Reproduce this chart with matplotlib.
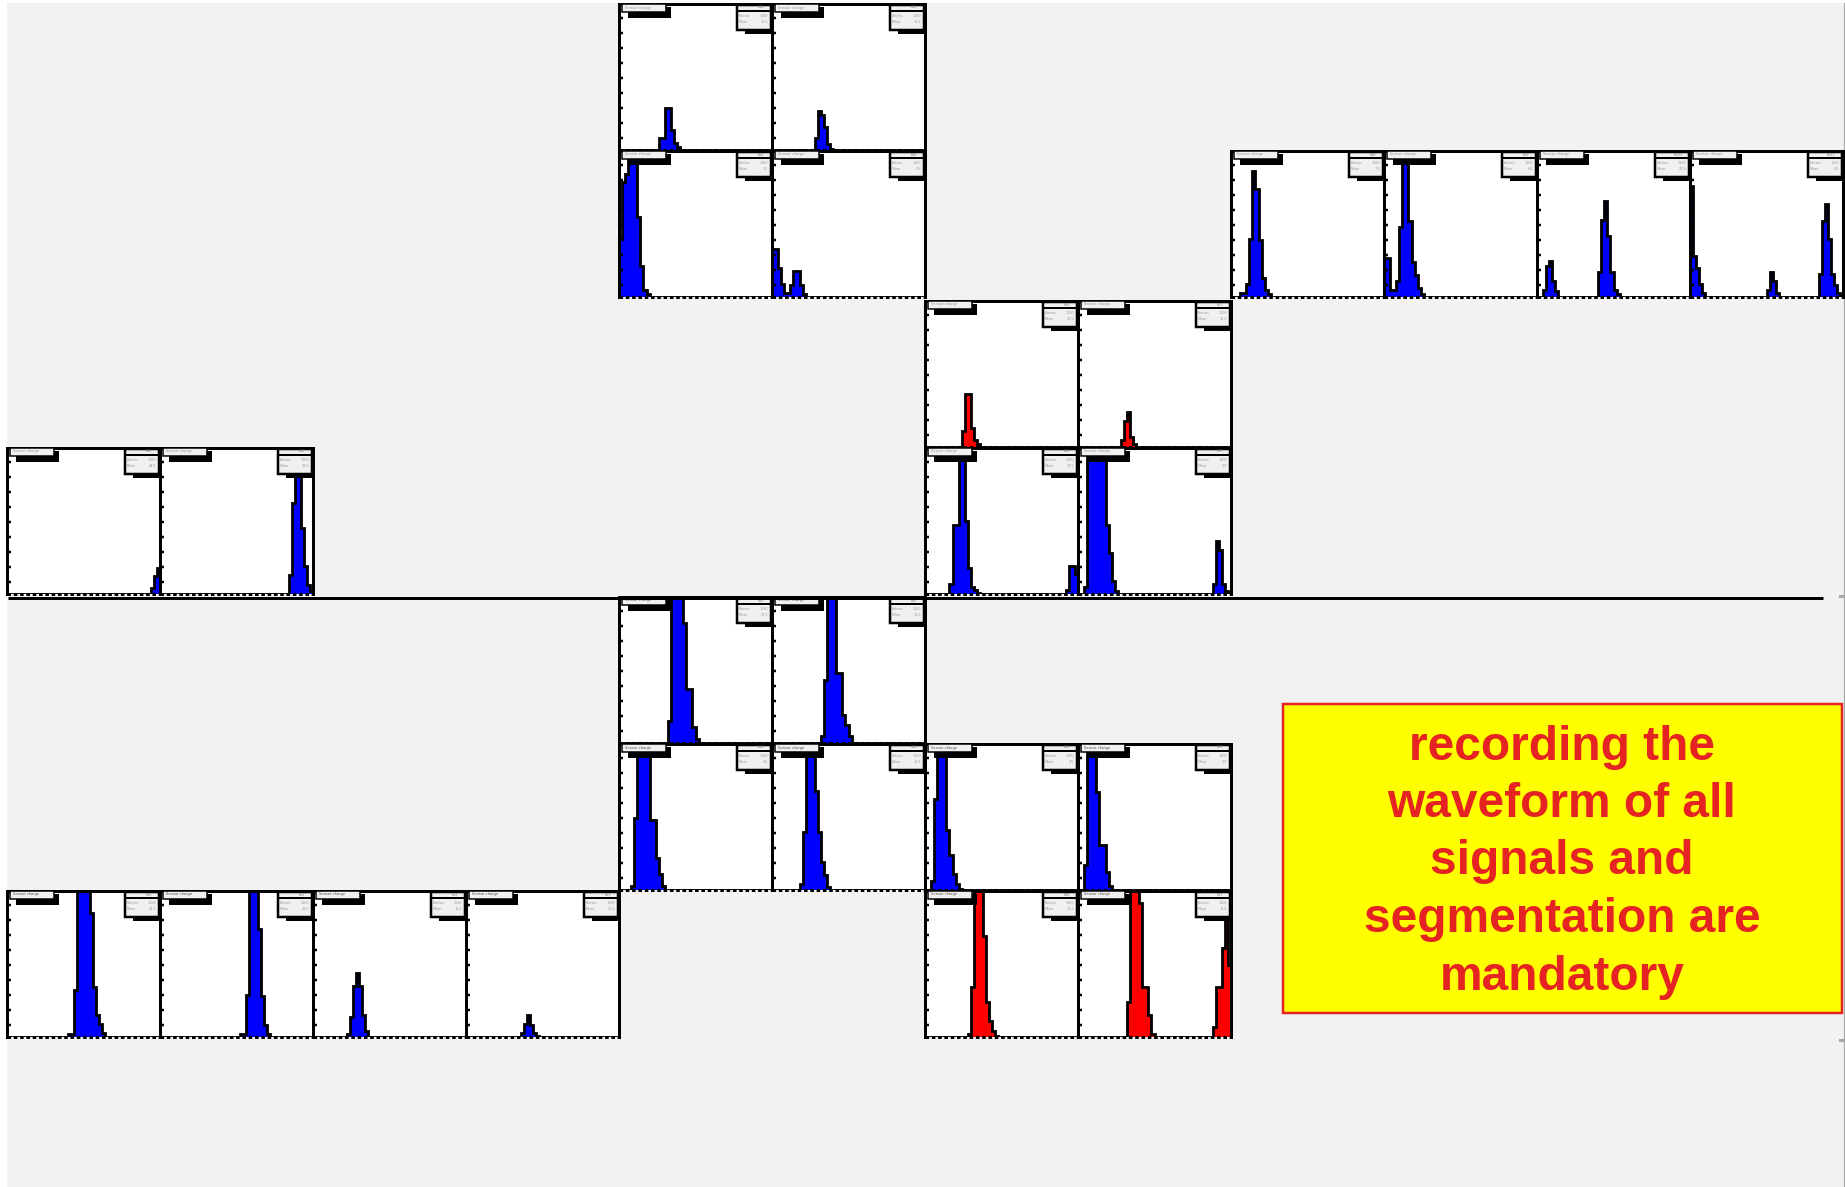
import numpy as np
import matplotlib
matplotlib.use("Agg")
import matplotlib.pyplot as plt
from matplotlib.patches import Rectangle

# %%
# histogram contents, 50 bins per pad, height in % of the pad
# each pad = list of (first bin, counts); values > 100 are clipped by the frame
NBINS = 50

r0c4 = [(13, [8, 8, 29, 29, 14, 5, 2])]
r0c5 = [(14, [8, 27, 24, 16, 4, 1])]
r1c4 = [(0, [40, 79, 84, 130, 130, 130, 55, 21, 5, 2])]
r1c5 = [(0, [33, 33, 20, 9, 3, 3, 8, 18, 18, 8, 2])]
r1c8 = [(3, [3, 3, 9, 40, 86, 74, 39, 13, 5, 2])]
r1c9 = [(0, [27, 27, 5, 5, 11, 48, 130, 130, 52, 24, 15, 6, 2])]
r1c10 = [(2, [5, 21, 25, 11, 4]), (20, [17, 53, 66, 42, 17, 5, 2])]
r1c11 = [(0, [76, 28, 20, 9, 3]), (25, [5, 17, 11, 3]), (42, [16, 52, 64, 40, 16, 8, 3, 1])]
r2c6 = [(12, [11, 36, 36, 13, 5, 2])]
r2c7 = [(14, [5, 18, 24, 7, 2])]
r3c0 = [(47, [4, 12, 18])]
r3c1 = [(42, [13, 62, 88, 88, 45, 19, 6, 2])]
r3c6 = [(8, [7, 47, 47, 130, 130, 50, 18, 5, 3, 1]), (46, [3, 19, 19, 14])]
r3c7 = [(2, [5, 130, 130, 130, 130, 130, 130, 47, 28, 9, 2]), (44, [7, 36, 30, 7, 2])]
r4c4 = [(16, [15, 130, 130, 130, 130, 82, 37, 37, 11, 3])]
r4c5 = [(16, [5, 43, 130, 130, 130, 48, 48, 19, 12, 5])]
r5c4 = [(4, [3, 49, 130, 130, 130, 130, 48, 48, 22, 11, 3])]
r5c5 = [(9, [4, 40, 130, 130, 130, 68, 40, 19, 10, 2])]
r5c6 = [(2, [6, 62, 130, 130, 130, 41, 24, 11, 4, 1])]
r5c7 = [(2, [17, 130, 130, 130, 67, 31, 31, 12, 3])]
r6c0 = [(20, [2, 2, 32, 130, 130, 130, 130, 85, 34, 15, 9, 3])]
r6c1 = [(26, [2, 2, 29, 130, 130, 130, 74, 28, 8, 2])]
r6c2 = [(11, [2, 14, 35, 44, 35, 15, 4])]
r6c3 = [(18, [3, 9, 15, 8, 3, 1])]
r6c6 = [(14, [2, 34, 130, 130, 130, 69, 24, 11, 4, 1])]
r6c7 = [(16, [24, 130, 130, 130, 92, 34, 34, 15, 2]), (44, [7, 34, 34, 61, 81, 49])]

# (row, col, fill colour, contents)
pads = [
    (0, 4, "blue", r0c4), (0, 5, "blue", r0c5),
    (1, 4, "blue", r1c4), (1, 5, "blue", r1c5),
    (1, 8, "blue", r1c8), (1, 9, "blue", r1c9), (1, 10, "blue", r1c10), (1, 11, "blue", r1c11),
    (2, 6, "red", r2c6), (2, 7, "red", r2c7),
    (3, 0, "blue", r3c0), (3, 1, "blue", r3c1), (3, 6, "blue", r3c6), (3, 7, "blue", r3c7),
    (4, 4, "blue", r4c4), (4, 5, "blue", r4c5),
    (5, 4, "blue", r5c4), (5, 5, "blue", r5c5), (5, 6, "blue", r5c6), (5, 7, "blue", r5c7),
    (6, 0, "blue", r6c0), (6, 1, "blue", r6c1), (6, 2, "blue", r6c2), (6, 3, "blue", r6c3),
    (6, 6, "red", r6c6), (6, 7, "red", r6c7),
]

box_lines = ["recording the", "waveform of all", "signals and",
             "segmentation are", "mandatory"]

# %%
W, H = 1845, 1187
PX = 72 / 100  # px -> pt
PAD_W, PAD_H = 153, 146
row_top = [4, 151, 301, 448, 597, 744, 891]
fill_col = {"blue": "#0000ff", "red": "#ff0000"}

fig = plt.figure(figsize=(W / 100, H / 100), dpi=100)
fig.patch.set_facecolor("white")

bg = fig.add_axes([0, 0, 1, 1])
bg.set_xlim(0, W)
bg.set_ylim(H, 0)
bg.axis("off")
bg.add_patch(Rectangle((7, 3), 1837, H - 3, fc="#f2f2f2", ec="none"))
bg.plot([1844, 1844], [3, H], color="#a8a8a8", lw=1.2 * PX)
for yy in [596, 1040]:
    bg.plot([1840, 1844], [yy, yy], color="#a8a8a8", lw=3 * PX)

# yellow box
bg.add_patch(Rectangle((1283, 704), 559, 309, fc="#ffff00", ec="#e42322", lw=2.5 * PX))
for i, line in enumerate(box_lines):
    bg.text(1562, 747 + 57.5 * i, line, ha="center", va="center",
            fontsize=34.5, fontweight="bold", family="Liberation Sans", color="#e42322")

# %%
yticks = [(12.3 + 15 * k) / PAD_H * 100 for k in range(9)]
edges = np.arange(NBINS + 1)


def tax(px_x, px_y):
    # pad pixel offsets (from top-left) -> axes fraction
    return px_x / PAD_W, 1 - px_y / PAD_H


for row, col, colour, segs in pads:
    x0 = 7 + PAD_W * col
    y0 = row_top[row]
    ax = fig.add_axes([x0 / W, 1 - (y0 + PAD_H) / H, PAD_W / W, PAD_H / H])
    ax.set_facecolor("white")
    ax.set_xlim(0, NBINS)
    ax.set_ylim(0, 100)

    counts = np.zeros(NBINS)
    for start, vals in segs:
        counts[start:start + len(vals)] = vals
    ax.stairs(counts, edges, fill=True, facecolor=fill_col[colour],
              edgecolor="black", linewidth=2.8 * PX)

    for s in ["left", "top", "right"]:
        ax.spines[s].set_linewidth(3 * PX)
    ax.spines["bottom"].set_visible(False)
    ax.plot([0, NBINS], [0, 0], color="black", lw=3 * PX,
            ls=(0, (1.2, 0.9)), clip_on=False, zorder=5)
    ax.set_xticks([])
    ax.set_yticks(yticks)
    ax.tick_params(axis="y", direction="in", length=4 * PX, width=2.5 * PX,
                   labelleft=False)

    # title pave with shadow
    sx, sy = tax(9, 14)
    ax.add_patch(Rectangle((sx, sy), 43 / PAD_W, 11 / PAD_H, transform=ax.transAxes,
                           fc="black", ec="none", zorder=6))
    bx, by = tax(3, 8)
    ax.add_patch(Rectangle((bx, by), 44 / PAD_W, 8 / PAD_H, transform=ax.transAxes,
                           fc="#f0f0f0", ec="black", lw=1.5 * PX, zorder=7))
    tcol = "#555555" if row >= 4 else "#9a9a9a"
    ax.text(*tax(6, 1.5), "Sensor charge", transform=ax.transAxes, fontsize=2.6,
            color=tcol, va="top", ha="left", zorder=8)

    # stats pave with shadow
    sx, sy = tax(PAD_W - 27, 30)
    ax.add_patch(Rectangle((sx, sy), 27 / PAD_W, 26 / PAD_H, transform=ax.transAxes,
                           fc="black", ec="none", zorder=6))
    bx, by = tax(PAD_W - 35, 26)
    ax.add_patch(Rectangle((bx, by), 34 / PAD_W, 25 / PAD_H, transform=ax.transAxes,
                           fc="#f0f0f0", ec="black", lw=2.5 * PX, zorder=7))
    ax.plot([bx, bx + 34 / PAD_W], [1 - 7 / PAD_H] * 2, transform=ax.transAxes,
            color="black", lw=2 * PX, zorder=8)
    ax.text(*tax(PAD_W - 8, 1.5), "h%d%d" % (row, col), transform=ax.transAxes,
            fontsize=2.4, color="#777777", va="top", ha="right", zorder=8)
    ax.text(*tax(PAD_W - 33, 12), "Entries", transform=ax.transAxes, fontsize=2.4,
            color="#9a9a9a", va="center", ha="left", zorder=8)
    ax.text(*tax(PAD_W - 4, 12), "1000", transform=ax.transAxes, fontsize=2.4,
            color="#9a9a9a", va="center", ha="right", zorder=8)
    ax.text(*tax(PAD_W - 33, 18), "Mean", transform=ax.transAxes, fontsize=2.4,
            color="#9a9a9a", va="center", ha="left", zorder=8)
    ax.text(*tax(PAD_W - 4, 18), "%.1f" % (np.argmax(counts) + 0.5), transform=ax.transAxes,
            fontsize=2.4, color="#9a9a9a", va="center", ha="right", zorder=8)

# separator line drawn on top of the pads
top = fig.add_axes([0, 0, 1, 1], facecolor="none")
top.set_xlim(0, W)
top.set_ylim(H, 0)
top.axis("off")
top.plot([8, 1823], [598, 598], color="black", lw=3 * PX, solid_capstyle="butt")

fig.savefig("out.png", dpi=100, facecolor=fig.get_facecolor())
